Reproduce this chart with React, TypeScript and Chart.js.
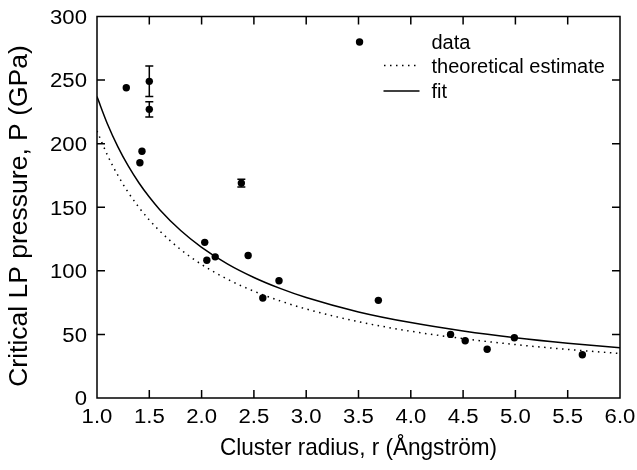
import React, { useEffect, useRef } from "react";
import { Chart, registerables } from "chart.js";
Chart.register(...registerables);

// measured data points
const radius = [1.28, 1.41, 1.43, 1.5, 1.5, 2.03, 2.05, 2.13, 2.38, 2.445, 2.585, 2.74, 3.51, 3.69, 4.38, 4.52, 4.73, 4.99, 5.64];
const pressure = [244, 185, 194, 249, 227, 122.4, 108.3, 111, 169, 112, 78.6, 92.2, 280, 76.8, 50, 45, 38.3, 47.4, 34];
const pressureErr = [0, 0, 0, 12, 6, 0, 0, 0, 3, 0, 0, 0, 0, 0, 0, 0, 0, 0, 0];

// curves
const curveR = [1.0, 1.1, 1.2, 1.3, 1.4, 1.5, 1.6, 1.8, 2.0, 2.25, 2.5, 2.75, 3.0, 3.5, 4.0, 4.5, 5.0, 5.5, 6.0];
const theoryP = [210, 190.9, 175, 161.5, 150, 140, 131.3, 116.7, 105, 93.3, 84, 76.4, 70, 60, 52.5, 46.7, 42, 38.2, 35];
const fitP = [237, 215.5, 197.5, 182.3, 169.3, 158, 148.1, 131.7, 118.5, 105.3, 94.8, 86.2, 79, 67.7, 59.3, 52.7, 47.4, 43.1, 39.5];

const xTicks = [1.0, 1.5, 2.0, 2.5, 3.0, 3.5, 4.0, 4.5, 5.0, 5.5, 6.0];
const yTicks = [0, 50, 100, 150, 200, 250, 300];
const legendLabels = ["data", "theoretical estimate", "fit"];
const xTitle = "Cluster radius, r (Ångström)";
const yTitle = "Critical LP pressure, P (GPa)";

const FONT = "'Liberation Sans', Arial, Helvetica, sans-serif";

const framePlugin = {
  id: "frame",
  afterDraw(chart: any) {
    const { ctx, chartArea: a, scales } = chart;
    const xs = scales.x;
    const ys = scales.y;
    ctx.save();
    ctx.strokeStyle = "#000";
    ctx.lineWidth = 1.5;
    ctx.strokeRect(a.left, a.top, a.right - a.left, a.bottom - a.top);
    const tl = 8;
    ctx.beginPath();
    xTicks.forEach((v) => {
      if (v <= 1 || v >= 6) return;
      const px = xs.getPixelForValue(v);
      ctx.moveTo(px, a.bottom);
      ctx.lineTo(px, a.bottom - tl);
      ctx.moveTo(px, a.top);
      ctx.lineTo(px, a.top + tl);
    });
    yTicks.forEach((v) => {
      if (v <= 0 || v >= 300) return;
      const py = ys.getPixelForValue(v);
      ctx.moveTo(a.left, py);
      ctx.lineTo(a.left + tl, py);
      ctx.moveTo(a.right, py);
      ctx.lineTo(a.right - tl, py);
    });
    ctx.stroke();

    ctx.fillStyle = "#000";
    // tick labels (slightly wide digits)
    ctx.font = "20.5px " + FONT;
    ctx.textBaseline = "alphabetic";
    const sx = 1.08;
    xTicks.forEach((v) => {
      ctx.save();
      ctx.translate(xs.getPixelForValue(v), a.bottom + 25);
      ctx.scale(sx, 1);
      ctx.textAlign = "center";
      ctx.fillText(v.toFixed(1), 0, 0);
      ctx.restore();
    });
    yTicks.forEach((v) => {
      ctx.save();
      ctx.translate(a.left - 10, ys.getPixelForValue(v) + 7.3);
      ctx.scale(sx, 1);
      ctx.textAlign = "right";
      ctx.fillText(String(v), 0, 0);
      ctx.restore();
    });

    // axis titles
    ctx.textAlign = "center";
    ctx.textBaseline = "middle";
    ctx.save();
    ctx.translate((a.left + a.right) / 2, 448);
    ctx.scale(0.94, 1);
    ctx.font = "24px " + FONT;
    ctx.fillText(xTitle, 0, 0);
    ctx.restore();
    ctx.save();
    ctx.translate(20, 216);
    ctx.rotate(-Math.PI / 2);
    ctx.font = "26.5px " + FONT;
    ctx.fillText(yTitle, 0, 0);
    ctx.restore();

    // legend
    const lx = 431.5;
    const baselines = [49.3, 73.3, 98.3];
    const lineY = [42.5, 65.5, 91];
    ctx.textAlign = "left";
    ctx.textBaseline = "alphabetic";
    ctx.font = "20px " + FONT;
    legendLabels.forEach((t, i) => ctx.fillText(t, lx, baselines[i]));
    ctx.lineWidth = 1.5;
    ctx.setLineDash([1.5, 4.5]);
    ctx.beginPath();
    ctx.moveTo(384, lineY[1]);
    ctx.lineTo(420, lineY[1]);
    ctx.stroke();
    ctx.setLineDash([]);
    ctx.beginPath();
    ctx.moveTo(383.5, lineY[2]);
    ctx.lineTo(419.5, lineY[2]);
    ctx.stroke();
    ctx.restore();
  },
  afterDatasetsDraw(chart: any) {
    const { ctx, scales } = chart;
    const xs = scales.x;
    const ys = scales.y;
    ctx.save();
    ctx.strokeStyle = "#000";
    ctx.lineWidth = 1.5;
    ctx.beginPath();
    radius.forEach((r, i) => {
      const e = pressureErr[i];
      if (!e) return;
      const px = xs.getPixelForValue(r);
      const y1 = ys.getPixelForValue(pressure[i] + e);
      const y2 = ys.getPixelForValue(pressure[i] - e);
      ctx.moveTo(px, y1);
      ctx.lineTo(px, y2);
      ctx.moveTo(px - 4, y1);
      ctx.lineTo(px + 4, y1);
      ctx.moveTo(px - 4, y2);
      ctx.lineTo(px + 4, y2);
    });
    ctx.stroke();
    ctx.restore();
  },
};

export default function App() {
  const ref = useRef<HTMLCanvasElement>(null);
  useEffect(() => {
    if (!ref.current) return;
    const chart = new Chart(ref.current, {
      type: "scatter",
      data: {
        datasets: [
          {
            label: "data",
            data: radius.map((r, i) => ({ x: r, y: pressure[i] })),
            pointRadius: 3.7,
            pointBackgroundColor: "#000",
            pointBorderWidth: 0,
            showLine: false,
            order: 0,
          },
          {
            label: "theoretical estimate",
            data: curveR.map((r, i) => ({ x: r, y: theoryP[i] })),
            showLine: true,
            pointRadius: 0,
            borderColor: "#000",
            borderWidth: 1.5,
            borderDash: [1.5, 4.5],
            cubicInterpolationMode: "monotone",
            order: 2,
          },
          {
            label: "fit",
            data: curveR.map((r, i) => ({ x: r, y: fitP[i] })),
            showLine: true,
            pointRadius: 0,
            borderColor: "#000",
            borderWidth: 1.5,
            cubicInterpolationMode: "monotone",
            order: 1,
          },
        ],
      },
      options: {
        animation: false,
        responsive: false,
        layout: { padding: { left: 0, top: 16.5, right: 17, bottom: 0 } },
        plugins: { legend: { display: false }, tooltip: { enabled: false } },
        scales: {
          x: {
            type: "linear",
            min: 1,
            max: 6,
            afterFit: (s: any) => {
              s.height = 72;
            },
            ticks: { display: false, stepSize: 0.5 },
            grid: { display: false, drawTicks: false },
            border: { display: false },
          },
          y: {
            type: "linear",
            min: 0,
            max: 300,
            afterFit: (s: any) => {
              s.width = 97;
            },
            ticks: { display: false, stepSize: 50 },
            grid: { display: false, drawTicks: false },
            border: { display: false },
          },
        },
      },
      plugins: [framePlugin],
    });
    return () => chart.destroy();
  }, []);
  return (
    <div style={{ position: "absolute", left: 0, top: 0, width: 637, height: 470, background: "#fff" }}>
      <canvas ref={ref} width={637} height={470} style={{ width: 637, height: 470 }} />
    </div>
  );
}
